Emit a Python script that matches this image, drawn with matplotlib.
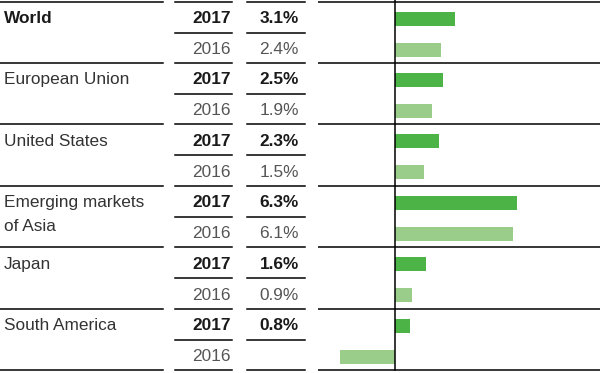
import matplotlib
matplotlib.use("Agg")
import matplotlib.pyplot as plt

regions = ["World", "European Union", "United States", "Emerging markets\nof Asia", "Japan", "South America"]
growth_2017 = [3.1, 2.5, 2.3, 6.3, 1.6, 0.8]
growth_2016 = [2.4, 1.9, 1.5, 6.1, 0.9, -2.85]
labels_2017 = ["3.1%", "2.5%", "2.3%", "6.3%", "1.6%", "0.8%"]
labels_2016 = ["2.4%", "1.9%", "1.5%", "6.1%", "0.9%", ""]
years = ["2017", "2016"]

W, H = 600, 373
TOP = 1.5
ROW_H = 61.4
SUB_OFF = [17, 48]
DARK = "#4cb347"
LIGHT = "#9acd89"
TEXT_DARK = "#1a1a1a"
TEXT_REG = "#333333"
TEXT_GRAY = "#555555"

plt.rcParams["font.family"] = ["Liberation Sans", "DejaVu Sans"]

fig = plt.figure(figsize=(W / 100, H / 100), dpi=100)

# table layer in pixel coords
tab = fig.add_axes([0, 0, 1, 1])
tab.set_xlim(0, W)
tab.set_ylim(H, 0)
tab.axis("off")

# bar layer
x0, x1 = 318, 600
zero_px = 395
scale = 19.3
bar = fig.add_axes([x0 / W, 0, (x1 - x0) / W, 1])
bar.set_xlim(-(zero_px - x0) / scale, (x1 - zero_px) / scale)
bar.set_ylim(H, 0)
bar.axis("off")

lw = 1.1
for i in range(len(regions) + 1):
    y = TOP + i * ROW_H
    tab.plot([0, 163], [y, y], color="black", lw=lw)
    tab.plot([175, 232], [y, y], color="black", lw=lw)
    tab.plot([247, 305], [y, y], color="black", lw=lw)
    bar.axhline(y, color="black", lw=lw)
for i in range(len(regions)):
    y = TOP + i * ROW_H + 31
    tab.plot([175, 232], [y, y], color="black", lw=lw)
    tab.plot([247, 305], [y, y], color="black", lw=lw)

fs = 12.4
for i, name in enumerate(regions):
    ytop = TOP + i * ROW_H
    bold = i == 0
    for k, part in enumerate(name.split("\n")):
        tab.text(4, ytop + SUB_OFF[0] + k * 24, part, fontsize=fs, va="center",
                 ha="left", color=TEXT_DARK if bold else TEXT_REG,
                 fontweight="bold" if bold else "normal")
    tab.text(231, ytop + SUB_OFF[0], years[0], fontsize=fs, va="center", ha="right",
             color=TEXT_DARK, fontweight="bold")
    tab.text(231, ytop + SUB_OFF[1], years[1], fontsize=fs, va="center", ha="right",
             color=TEXT_GRAY)
    tab.text(299, ytop + SUB_OFF[0], labels_2017[i], fontsize=fs, va="center", ha="right",
             color=TEXT_DARK, fontweight="bold")
    tab.text(299, ytop + SUB_OFF[1], labels_2016[i], fontsize=fs, va="center", ha="right",
             color=TEXT_GRAY)

ys17 = [TOP + i * ROW_H + SUB_OFF[0] for i in range(len(regions))]
ys16 = [TOP + i * ROW_H + SUB_OFF[1] for i in range(len(regions))]
bar.barh(ys17, growth_2017, height=14, color=DARK, zorder=2)
bar.barh(ys16, growth_2016, height=14, color=LIGHT, zorder=2)
bar.plot([0, 0], [0, TOP + len(regions) * ROW_H], color="black", lw=lw, zorder=3)

fig.savefig("out.png", dpi=100)
